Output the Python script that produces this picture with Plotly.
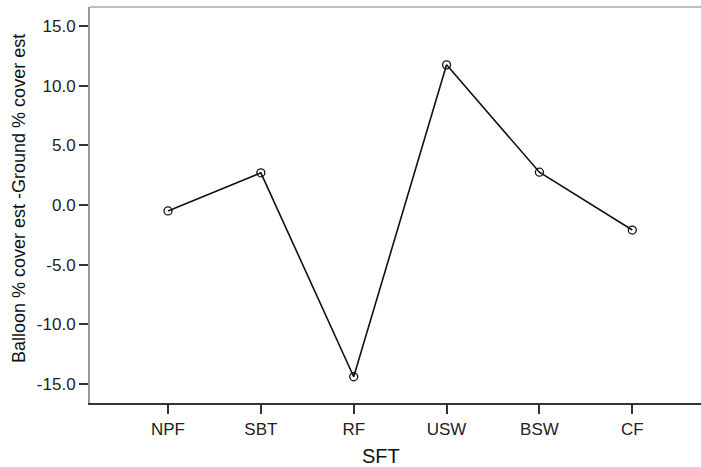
import plotly.graph_objects as go

categories = ["NPF", "SBT", "RF", "USW", "BSW", "CF"]
values = [-0.5, 2.7, -14.4, 11.75, 2.75, -2.1]
y_ticks = [15.0, 10.0, 5.0, 0.0, -5.0, -10.0, -15.0]
y_tick_labels = ["15.0", "10.0", "5.0", "0.0", "-5.0", "-10.0", "-15.0"]

fig = go.Figure()
fig.add_trace(go.Scatter(
    x=list(range(len(categories))), y=values, mode="lines+markers",
    line=dict(color="#111111", width=1.6),
    marker=dict(symbol="circle-open", size=8, color="#111111", line=dict(width=1.3)),
    showlegend=False,
))

font = "Liberation Sans, Arial, sans-serif"
L, R, T, B = 90, 0, 7, 64
W, H = 701, 467
pw, ph = W - L - R, H - T - B

fig.update_layout(
    width=W, height=H,
    margin=dict(l=L, r=R, t=T, b=B),
    paper_bgcolor="white", plot_bgcolor="white",
    font=dict(family=font, color="#222222", size=17),
    xaxis=dict(
        range=[-0.84, 5.74], tickmode="array",
        tickvals=list(range(len(categories))), ticktext=categories,
        showgrid=False, zeroline=False, showline=True, linecolor="#333333", linewidth=2,
        ticks="outside", ticklen=9, tickcolor="#333333", tickwidth=1.5,
        tickfont=dict(size=17, color="#222222"),
        ticklabelstandoff=1,
    ),
    yaxis=dict(
        range=[-16.6, 16.6], tickmode="array", tickvals=y_ticks, ticktext=y_tick_labels,
        showgrid=False, zeroline=False, showline=True, linecolor="#999999", linewidth=2,
        ticks="outside", ticklen=9, tickcolor="#333333", tickwidth=1.5,
        tickfont=dict(size=17, color="#222222"),
    ),
    shapes=[dict(type="line", xref="paper", yref="paper", x0=0, x1=1, y0=1, y1=1,
                 line=dict(color="#aaaaaa", width=1.5))],
    annotations=[
        dict(text="Balloon % cover est -Ground % cover est", textangle=-90,
             xref="paper", yref="paper", x=(19 - L) / pw, y=(H - B - 199) / ph,
             xanchor="center", yanchor="middle", showarrow=False,
             font=dict(size=18, color="#111111", family=font)),
        dict(text="SFT", xref="paper", yref="paper", x=(381 - L) / pw, y=(H - B - 456) / ph,
             xanchor="center", yanchor="middle", showarrow=False,
             font=dict(size=20, color="#111111", family=font)),
    ],
)

fig.write_html("out.html")
